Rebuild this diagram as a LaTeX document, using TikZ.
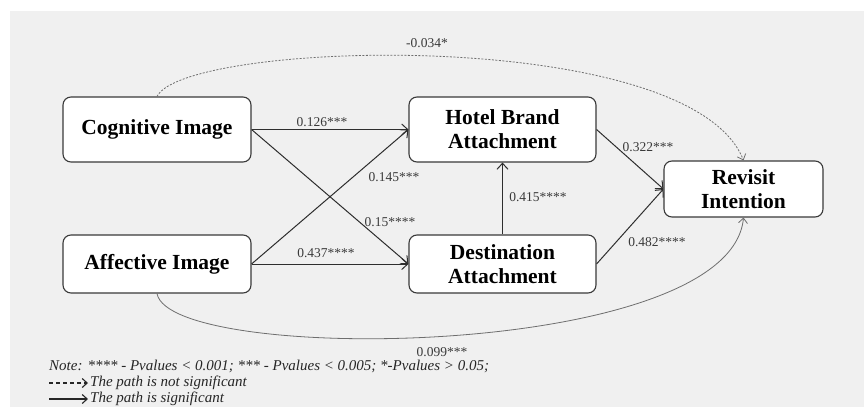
\documentclass[tikz,border=0pt]{standalone}
\usepackage{fontspec}
\setmainfont{Liberation Serif}
\usetikzlibrary{arrows.meta}
\definecolor{bg}{HTML}{F0F0F0}
\definecolor{boxc}{HTML}{3A3A3A}
\definecolor{linec}{HTML}{2E2E2E}
\definecolor{labc}{HTML}{3A3A3A}
\definecolor{curvec}{HTML}{6E6E6E}
\begin{document}
\begin{tikzpicture}[x=1pt,y=-1pt,
  box/.style={draw=boxc, fill=white, rounded corners=8pt, line width=1.1pt, align=center,
    font=\fontsize{21.5}{24}\selectfont\bfseries, inner sep=0pt},
  lab/.style={font=\fontsize{13.5}{16}\selectfont, text=labc, inner sep=0pt},
  legtext/.style={font=\fontsize{15}{17}\selectfont\itshape, text=black!85, inner sep=0pt, anchor=west},
  edge/.style={draw=linec, line width=1pt, -{Straight Barb[length=6pt,width=11pt]}},
  dashedge/.style={draw=curvec, line width=0.8pt, dash pattern=on 2pt off 1.5pt, -{Straight Barb[length=5pt,width=9pt]}},
  curveedge/.style={draw=curvec, line width=0.8pt, -{Straight Barb[length=5pt,width=9pt]}},
  legdash/.style={draw=black!85, line width=1.1pt, dash pattern=on 4pt off 3pt, -{Straight Barb[length=5pt,width=9pt]}},
  legsolid/.style={draw=black!85, line width=1.1pt, -{Straight Barb[length=5pt,width=9pt]}}
]
\useasboundingbox (0,0) rectangle (864,407);
\fill[white] (0,0) rectangle (864,407);
\fill[bg] (10,11) rectangle (864,407);

\node[box, minimum width=188pt, minimum height=65pt] (cog) at (157,129.5) {Cognitive Image};
\node[box, minimum width=188pt, minimum height=58pt] (aff) at (157,264) {Affective Image};
\node[box, minimum width=187pt, minimum height=65pt] (hotel) at (502.5,129.5) {Hotel Brand\\Attachment};
\node[box, minimum width=187pt, minimum height=58pt] (dest) at (502.5,264) {Destination\\Attachment};
\node[box, minimum width=159pt, minimum height=56pt] (rev) at (743.5,189) {Revisit\\Intention};

\draw[edge] (cog.east) -- (hotel.west);
\draw[edge] (cog.east) -- (dest.west);
\draw[edge] (aff.east) -- (hotel.west);
\draw[edge] (aff.east) -- (dest.west);
\draw[edge] (dest.north) -- (hotel.south);
\draw[edge] (hotel.east) -- (rev.west);
\draw[edge] (dest.east) -- (rev.west);
\draw[dashedge] (cog.north) .. controls (185,40) and (690,25) .. (rev.north);
\draw[curveedge] (aff.south) .. controls (170,365) and (730,360) .. (rev.south);

\node[lab] (l1) at (427,43) {-0.034*};
\node[lab] (l2) at (322,122) {0.126***};
\node[lab] (l3) at (394,177) {0.145***};
\node[lab] (l4) at (390,222) {0.15****};
\node[lab] (l5) at (326,253) {0.437****};
\node[lab] (l6) at (538,197) {0.415****};
\node[lab] (l7) at (648,147) {0.322***};
\node[lab] (l8) at (657,242) {0.482****};
\node[lab] (l9) at (442,352) {0.099***};

\node[legtext] (note) at (49,366) {Note: **** - Pvalues < 0.001; *** - Pvalues < 0.005; *-Pvalues > 0.05;};
\coordinate (da) at (49,383);
\coordinate (db) at (88,383);
\draw[legdash] (da) -- (db);
\node[legtext] (nt) at (90,383) {The path is not significant};
\coordinate (sa) at (49,399);
\coordinate (sb) at (88,399);
\draw[legsolid] (sa) -- (sb);
\node[legtext] (st) at (90,399) {The path is significant};
\end{tikzpicture}
\end{document}
